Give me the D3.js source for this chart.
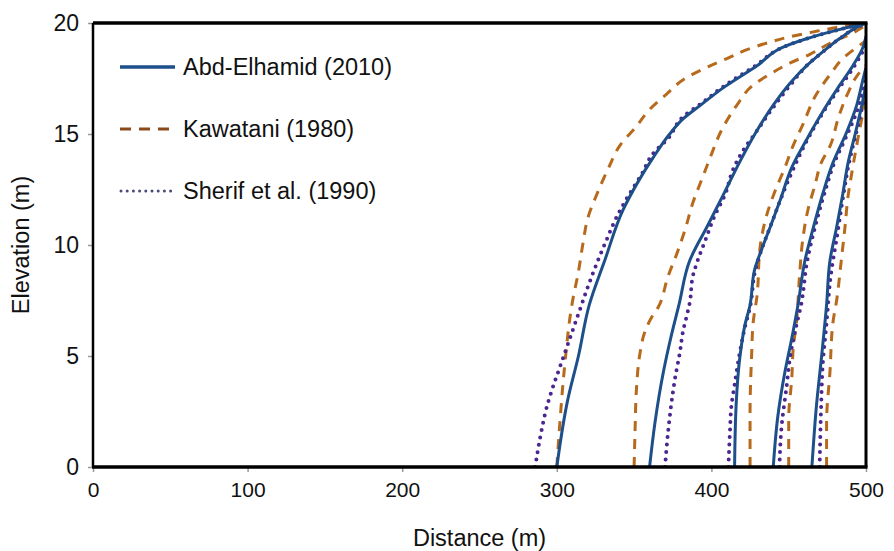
<!DOCTYPE html>
<html>
<head>
<meta charset="utf-8">
<script src="https://cdn.jsdelivr.net/npm/d3@7"></script>
<style>
  html, body { margin: 0; padding: 0; background: #fff; }
  svg { display: block; font-family: "Liberation Sans", Arial, sans-serif; }
</style>
</head>
<body>
<svg id="chart" width="894" height="551"></svg>
<script>
// ---------- DATA ----------
const xTicks = [0, 100, 200, 300, 400, 500];
const yTicks = [0, 5, 10, 15, 20];
const xTitle = "Distance (m)";
const yTitle = "Elevation (m)";
const seriesNames = ["Abd-Elhamid (2010)", "Kawatani (1980)", "Sherif et al. (1990)"];

// each curve: [distance (m), elevation (m)]
const abdElhamidCurves = [
  [[300,0],[307,3],[314,5],[321,7.3],[331,9.3],[343,11.6],[353,12.9],[362,13.9],[373,15],[382,15.7],[393,16.3],[408,17.1],[430,18.1],[446,18.9],[462,19.3],[477,19.6],[500,20]],
  [[360,0],[363.5,2],[369,4.3],[374,5.9],[379,7.3],[386,9.3],[397,10.8],[408,12.3],[418,13.7],[429,15.1],[440,16.3],[451,17.3],[462,18.1],[472,18.7],[483,19.3],[494,19.8],[500,20]],
  [[415,0],[416,2.8],[418.5,5],[421.7,6.4],[425,7.3],[428,8.9],[432.5,9.8],[438,10.8],[444.4,12],[452,13.5],[462,14.8],[472,16],[483,17.2],[491.7,18.1],[498,18.9],[500,19.4]],
  [[440,0],[443,2.3],[447.6,4.3],[452,5.8],[456,7.3],[460.5,9.3],[466,10.8],[472,12.3],[478.6,13.7],[487.6,15.1],[494,16.3],[497.5,17.3],[500,18]],
  [[465,0],[468,2.8],[471.3,5],[474.5,7.3],[476.7,9.3],[481,10.8],[485,12.3],[488.4,13.7],[493,15],[497,16.2],[500,17.2]]
];
const kawataniCurves = [
  [[300,0],[302,2],[305,4.5],[310,7.4],[314,8.8],[317,10.1],[320,11.2],[326,12.3],[333,13.4],[341,14.5],[351,15.3],[360,16.1],[371,16.8],[383,17.5],[397,18],[410,18.4],[423,18.8],[436,19.1],[449,19.35],[466,19.6],[481,19.8],[500,20]],
  [[350,0],[350.6,1.6],[351.6,3.6],[354,5.2],[357,6.1],[361,6.7],[365.6,7.2],[372,8.6],[377.6,9.6],[383,10.7],[388,11.9],[394.6,13.1],[399,13.9],[407.5,15.3],[416.5,16.3],[427,17.2],[438,17.7],[451,18.2],[464,18.6],[477,19.1],[490,19.5],[500,19.9]],
  [[425,0],[425,2.5],[426,5],[427,6.5],[429.5,7.7],[431.5,9.9],[436,11.4],[441,12.4],[447.6,13.5],[453,14.5],[459,15.4],[468,16.8],[477,17.7],[485,18.4],[496,19],[500,19.2]],
  [[450,0],[450,2.2],[452,4],[453,5.4],[455,6.5],[457,8.6],[459,10.2],[462.5,11.6],[467,12.7],[471,13.7],[477,14.5],[482,15.7],[488,16.8],[495,17.7],[500,18.1]],
  [[474.5,0],[474.5,2],[476.7,4.3],[478.6,6.5],[481,7.5],[484,9.3],[486.4,10.8],[488.4,12.2],[490.7,13.2],[494,14.5],[497,15.6],[500,16.6]]
];
const sherifCurves = [
  [[286,0],[290,1.6],[293.5,2.7],[297,3.5],[302,4.5],[308,5.7],[315,7.1],[320,8.1],[326,9.2],[332,10.2],[339,11.3],[347,12.3],[355,13.2],[362,14.1],[372,14.8],[382,15.8],[392,16.3],[407,17.1],[429,18.1],[446,18.9],[462,19.3],[477,19.6],[500,20]],
  [[370,0],[372,1.6],[374,2.8],[376.5,4],[379.7,5.2],[381.6,6.1],[384,6.8],[386,7.4],[388,8.6],[390.6,9.2],[396,10.2],[402,11.3],[409,12.3],[414,13.4],[420,14.2],[429,15.1],[440,16.2],[451,17.2],[462,18.1],[472,18.7],[483,19.3],[494,19.8],[500,20]],
  [[411,0],[412,1.6],[413,2.8],[415,3.7],[417,4.6],[421.7,6.3],[425,7.2],[428.5,8.9],[433,9.9],[438.5,10.9],[445,12.1],[453.5,13.5],[462.5,14.8],[472.5,16],[483,17.1],[491,17.9],[497,18.6],[500,19]],
  [[444,0],[445.5,1.9],[448.6,3.6],[451,5],[455,6.4],[458,7.3],[462,9.3],[467,10.8],[473,12.3],[479.5,13.7],[488,15],[494.5,16.1],[498,17],[500,17.5]],
  [[470,0],[471,2.8],[472,4.6],[474.5,6.5],[477,8.5],[481.5,10.5],[485.5,12.3],[489,13.7],[493.5,15],[497.5,16.2],[500,17]]
];

// ---------- CHART ----------
const W = 894, H = 551;
const margin = {left: 93, right: 28, top: 23, bottom: 84};
const svg = d3.select("#chart");

const x = d3.scaleLinear().domain([0, 500]).range([margin.left, W - margin.right]);
const y = d3.scaleLinear().domain([0, 20]).range([H - margin.bottom, margin.top]);

const colors = {abd: "#1d4f8a", kaw: "#b86a1c", sher: "#4b2590"};

// axes
const xAxis = svg.append("g")
  .attr("transform", `translate(0,${y(0)})`)
  .call(d3.axisBottom(x).tickValues(xTicks).tickSize(5).tickPadding(10).tickFormat(d3.format("d")));
const yAxis = svg.append("g")
  .attr("transform", `translate(${x(0)},0)`)
  .call(d3.axisLeft(y).tickValues(yTicks).tickSize(5).tickPadding(9).tickFormat(d3.format("d")));
[xAxis, yAxis].forEach(g => {
  g.select(".domain").remove();
  g.selectAll(".tick line").attr("stroke", "#999").attr("stroke-width", 1.5);
  g.selectAll(".tick text").attr("fill", "#111").attr("font-family", "Liberation Sans, Arial, sans-serif");
});
xAxis.selectAll(".tick text").attr("font-size", 21);
yAxis.selectAll(".tick text").attr("font-size", 23);

// curves
const line = d3.line().x(d => x(d[0])).y(d => y(d[1])).curve(d3.curveMonotoneY);
const clip = svg.append("clipPath").attr("id", "clip").append("rect")
  .attr("x", x(0)).attr("y", y(20)).attr("width", x(500) - x(0)).attr("height", y(0) - y(20));
const plot = svg.append("g").attr("clip-path", "url(#clip)");

plot.selectAll(".kaw").data(kawataniCurves).join("path")
  .attr("class", "kaw").attr("d", line).attr("fill", "none")
  .attr("stroke", colors.kaw).attr("stroke-width", 3).attr("stroke-dasharray", "10,8");
plot.selectAll(".sher").data(sherifCurves).join("path")
  .attr("class", "sher").attr("d", line).attr("fill", "none")
  .attr("stroke", colors.sher).attr("stroke-width", 4).attr("stroke-linecap", "round")
  .attr("stroke-dasharray", "0,7.5");
plot.selectAll(".abd").data(abdElhamidCurves).join("path")
  .attr("class", "abd").attr("d", line).attr("fill", "none")
  .attr("stroke", colors.abd).attr("stroke-width", 3);

// frame
const fr = svg.append("g").attr("stroke", "#000");
fr.append("line").attr("x1", x(0)).attr("x2", x(500) + 1.5).attr("y1", y(20)).attr("y2", y(20)).attr("stroke-width", 3.5);
fr.append("line").attr("x1", x(500)).attr("x2", x(500)).attr("y1", y(20)).attr("y2", y(0)).attr("stroke-width", 3);
fr.append("line").attr("x1", x(0) - 1).attr("x2", x(500) + 1.5).attr("y1", y(0)).attr("y2", y(0)).attr("stroke-width", 3.5);
fr.append("line").attr("x1", x(0)).attr("x2", x(0)).attr("y1", y(20)).attr("y2", y(0)).attr("stroke-width", 2.5);

// legend
const legY = [67, 129, 191];
const leg = svg.append("g");
const lx0 = 120, lx1 = 175;
leg.append("line").attr("x1", lx0).attr("x2", lx1).attr("y1", legY[0]).attr("y2", legY[0])
  .attr("stroke", colors.abd).attr("stroke-width", 3.5);
leg.append("line").attr("x1", lx0).attr("x2", lx1).attr("y1", legY[1]).attr("y2", legY[1])
  .attr("stroke", "#8a4a1a").attr("stroke-width", 3).attr("stroke-dasharray", "11,8");
leg.append("line").attr("x1", lx0 + 1).attr("x2", lx1).attr("y1", legY[2]).attr("y2", legY[2])
  .attr("stroke", "#4a4a7a").attr("stroke-width", 3).attr("stroke-linecap", "round").attr("stroke-dasharray", "0,6.2");
leg.selectAll("text").data(seriesNames).join("text")
  .attr("x", 183).attr("y", (d, i) => legY[i]).attr("dy", "0.35em")
  .attr("font-size", 23.5).attr("fill", "#111").text(d => d);

// axis titles
svg.append("text").attr("x", (x(0) + x(500)) / 2).attr("y", 546)
  .attr("text-anchor", "middle").attr("font-size", 23.5).attr("fill", "#111").text(xTitle);
svg.append("text").attr("transform", `translate(29,${(y(0) + y(20)) / 2}) rotate(-90)`)
  .attr("text-anchor", "middle").attr("font-size", 23.5).attr("fill", "#111").text(yTitle);
</script>
</body>
</html>
